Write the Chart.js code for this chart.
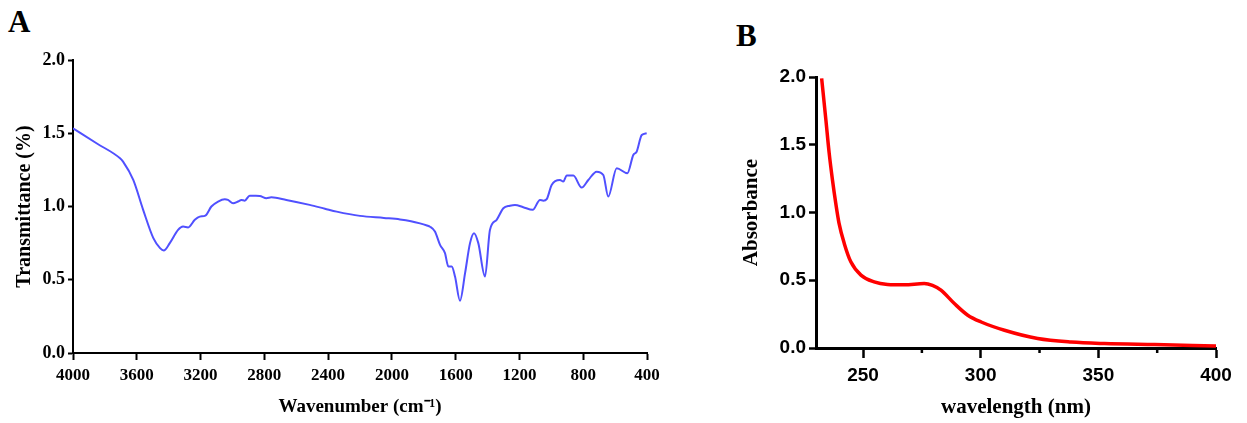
<!DOCTYPE html>
<html>
<head>
<meta charset="utf-8">
<script src="https://cdn.jsdelivr.net/npm/chart.js@4"></script>
<style>
  body { margin: 0; background: #fff; width: 1247px; height: 423px; overflow: hidden; position: relative; }
  .panel { position: absolute; top: 0; }
  .letter { position: absolute; font-family: "Liberation Serif", serif; font-weight: bold; font-size: 31px; color: #000; }
</style>
</head>
<body>
<div class="letter" style="left:8px;top:4px;">A</div>
<div class="letter" style="left:736px;top:18px;">B</div>
<div class="panel" style="left:0;width:700px;height:423px;"><canvas id="ftir"></canvas></div>
<div class="panel" style="left:700px;width:547px;height:423px;"><canvas id="uv"></canvas></div>
<script>
// FTIR spectrum (panel A)
var ftirWavenumber = [4000, 3850, 3705, 3686, 3622, 3560, 3496, 3454, 3431, 3393, 3341, 3310, 3278, 3236, 3205, 3170, 3132, 3090, 3048, 3028,
  2996, 2965, 2944, 2923, 2892, 2860, 2829, 2787, 2756, 2662, 2516, 2420, 2346, 2200, 2050, 1949, 1880, 1824, 1780, 1761,
  1730, 1698, 1667, 1646, 1625, 1604, 1573, 1541, 1510, 1485, 1458, 1416, 1385, 1343, 1301, 1260, 1228, 1176, 1117, 1071,
  1050, 1029, 998, 946, 925, 904, 862, 810, 768, 716, 674, 643, 590, 523, 486, 465, 433, 402];
var ftirTransmittance = [1.534, 1.43, 1.329, 1.306, 1.181, 0.977, 0.784, 0.716, 0.70, 0.75, 0.84, 0.863, 0.857, 0.909, 0.931, 0.938, 1.0, 1.034, 1.05, 1.045,
  1.022, 1.034, 1.045, 1.04, 1.074, 1.073, 1.072, 1.057, 1.063, 1.045, 1.011, 0.985, 0.965, 0.936, 0.922, 0.912, 0.9, 0.885, 0.87, 0.862,
  0.829, 0.738, 0.682, 0.59, 0.59, 0.522, 0.357, 0.545, 0.75, 0.818, 0.75, 0.522, 0.84, 0.909, 0.988, 1.005, 1.011, 0.995, 0.977, 1.045,
  1.04, 1.05, 1.147, 1.181, 1.17, 1.211, 1.211, 1.129, 1.181, 1.238, 1.215, 1.068, 1.261, 1.227, 1.352, 1.374, 1.488, 1.5];

// UV-Vis spectrum (panel B)
var uvWavelength = [232.4, 234.2, 235.6, 237.0, 238.4, 239.8, 242.0, 244.8, 249.1, 254.7, 260.4, 267.5, 276, 279.5, 283.1,
  288.8, 294.5, 300.2, 310.1, 324.2, 338.4, 352.6, 373.9, 400];
var uvAbsorbance = [1.99, 1.684, 1.438, 1.24, 1.068, 0.92, 0.772, 0.636, 0.538, 0.488, 0.469, 0.466, 0.476, 0.462, 0.427,
  0.328, 0.242, 0.192, 0.131, 0.07, 0.044, 0.033, 0.025, 0.015];

var uvMajorTicks = [250, 300, 350, 400];
var uvMinorTicks = [275, 325, 375];

function toPoints(xs, ys) {
  var pts = [];
  for (var i = 0; i < xs.length; i++) {
    pts.push({x: xs[i], y: ys[i]});
  }
  return pts;
}

var serif = "'Liberation Serif', 'Times New Roman', serif";
var sans = "'Liberation Sans', Arial, sans-serif";

new Chart(document.getElementById('ftir'), {
  type: 'line',
  data: {
    datasets: [{
      data: toPoints(ftirWavenumber, ftirTransmittance),
      borderColor: 'rgb(80, 80, 255)',
      borderWidth: 2,
      pointRadius: 0,
      cubicInterpolationMode: 'monotone',
      fill: false
    }]
  },
  options: {
    responsive: true,
    maintainAspectRatio: false,
    animation: false,
    layout: { padding: { top: 60, right: 53, left: 0, bottom: 0 } },
    plugins: { legend: { display: false }, tooltip: { enabled: false } },
    scales: {
      x: {
        type: 'linear',
        reverse: true,
        min: 400,
        max: 4000,
        afterFit: function(s) { s.height = 70; },
        ticks: { stepSize: 400, color: '#000', padding: 5, font: { family: serif, size: 17, weight: 'bold' },
          callback: function(v) { return String(v); } },
        grid: { drawOnChartArea: false, tickLength: 7, tickWidth: 2, tickColor: '#000' },
        border: { color: '#000', width: 2 },
        title: { display: true, text: 'Wavenumber (cm\u207B\u00B9)', color: '#000', padding: { bottom: 5 },
          font: { family: serif, size: 19, weight: 'bold' } }
      },
      y: {
        min: 0,
        max: 2,
        afterFit: function(s) { s.width = 73; },
        ticks: { stepSize: 0.5, color: '#000', padding: 3, font: { family: serif, size: 18, weight: 'bold' },
          callback: function(v) { return v.toFixed(1); } },
        grid: { drawOnChartArea: false, tickLength: 5, tickWidth: 2, tickColor: '#000' },
        border: { color: '#000', width: 2 },
        title: { display: true, text: 'Transmittance (%)', color: '#000', padding: { top: 13 },
          font: { family: serif, size: 20, weight: 'bold' } }
      }
    }
  }
});

// short unlabeled ticks between the labeled ones on the wavelength axis
var minorTicks = {
  id: 'minorTicks',
  afterDraw: function(chart) {
    var ctx = chart.ctx;
    var xs = chart.scales.x;
    var y0 = chart.chartArea.bottom;
    ctx.save();
    ctx.strokeStyle = '#000';
    ctx.lineWidth = 2.5;
    uvMinorTicks.forEach(function(v) {
      var px = xs.getPixelForValue(v);
      ctx.beginPath();
      ctx.moveTo(px, y0);
      ctx.lineTo(px, y0 + 5);
      ctx.stroke();
    });
    ctx.restore();
  }
};

new Chart(document.getElementById('uv'), {
  type: 'line',
  data: {
    datasets: [{
      data: toPoints(uvWavelength, uvAbsorbance),
      borderColor: '#ff0000',
      borderWidth: 3.5,
      pointRadius: 0,
      cubicInterpolationMode: 'monotone',
      fill: false
    }]
  },
  options: {
    responsive: true,
    maintainAspectRatio: false,
    animation: false,
    layout: { padding: { top: 77, right: 31, left: 0, bottom: 0 } },
    plugins: { legend: { display: false }, tooltip: { enabled: false } },
    scales: {
      x: {
        type: 'linear',
        min: 230,
        max: 400,
        afterFit: function(s) { s.height = 75; },
        afterBuildTicks: function(s) { s.ticks = uvMajorTicks.map(function(v) { return {value: v}; }); },
        ticks: { color: '#000', padding: 6, autoSkip: false, font: { family: sans, size: 19, weight: 'bold' } },
        grid: { drawOnChartArea: false, tickLength: 10, tickWidth: 2.5, tickColor: '#000' },
        border: { color: '#000', width: 3 },
        title: { display: true, text: 'wavelength (nm)', color: '#000', padding: { bottom: 3 },
          font: { family: serif, size: 21, weight: 'bold' } }
      },
      y: {
        min: 0,
        max: 2,
        afterFit: function(s) { s.width = 116; },
        ticks: { stepSize: 0.5, color: '#000', padding: 3, font: { family: sans, size: 19, weight: 'bold' },
          callback: function(v) { return v.toFixed(1); } },
        grid: { drawOnChartArea: false, tickLength: 7, tickWidth: 2.5, tickColor: '#000' },
        border: { color: '#000', width: 3 },
        title: { display: true, text: 'Absorbance', color: '#000', padding: { top: 39 },
          font: { family: serif, size: 21, weight: 'bold' } }
      }
    }
  },
  plugins: [minorTicks]
});
</script>
</body>
</html>
